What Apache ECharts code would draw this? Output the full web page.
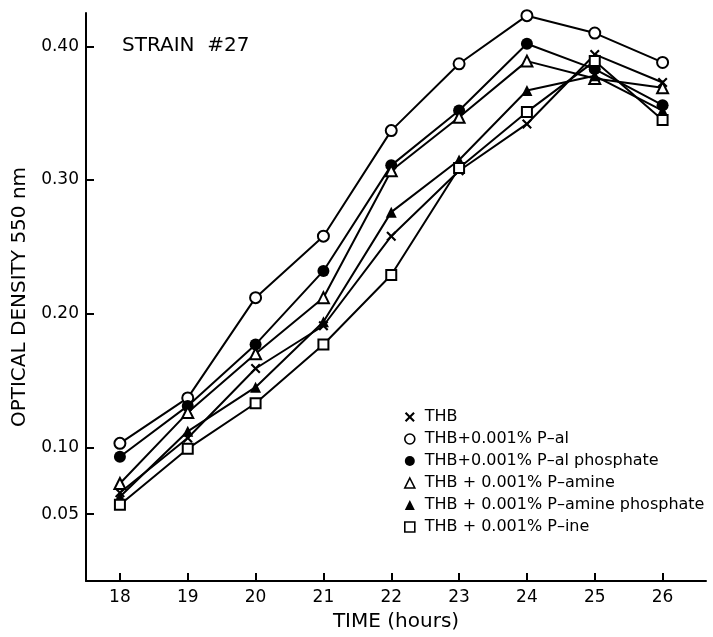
<!DOCTYPE html>
<html>
<head>
<meta charset="utf-8">
<script src="https://cdn.jsdelivr.net/npm/echarts@6/dist/echarts.min.js"></script>
<style>
html,body{margin:0;padding:0;background:#fff;}
#chart{width:713px;height:637px;}
</style>
</head>
<body>
<div id="chart"></div>
<script>
const hours = [18, 19, 20, 21, 22, 23, 24, 25, 26];
const thb      = [0.066, 0.107, 0.159, 0.191, 0.258, 0.307, 0.342, 0.394, 0.373];
const pAl      = [0.103, 0.137, 0.212, 0.258, 0.337, 0.387, 0.423, 0.410, 0.388];
const pAlPhos  = [0.093, 0.131, 0.177, 0.232, 0.311, 0.352, 0.402, 0.383, 0.356];
const pAmine   = [0.073, 0.126, 0.170, 0.212, 0.307, 0.347, 0.389, 0.376, 0.369];
const pAmPhos  = [0.063, 0.112, 0.145, 0.194, 0.276, 0.315, 0.367, 0.378, 0.352];
const pIne     = [0.057, 0.099, 0.133, 0.177, 0.229, 0.309, 0.351, 0.389, 0.345];
const seriesNames = ['THB', 'THB+0.001% P\u2013al', 'THB+0.001% P\u2013al phosphate', 'THB + 0.001% P\u2013amine', 'THB + 0.001% P\u2013amine phosphate', 'THB + 0.001% P\u2013ine'];
const yTicks = [0.05, 0.10, 0.20, 0.30, 0.40];
const xTicks = [18, 19, 20, 21, 22, 23, 24, 25, 26];

const FONT = 'DejaVu Sans';
const crossPath = 'path://M0,1.5L1.5,0L5,3.5L8.5,0L10,1.5L6.5,5L10,8.5L8.5,10L5,6.5L1.5,10L0,8.5L3.5,5Z';
const styles = [
  {symbol: crossPath, size: 10, fill: '#000', bw: 0, lsize: 8},
  {symbol: 'circle', size: 11, fill: '#fff', bw: 2, lsize: 10},
  {symbol: 'circle', size: 12, fill: '#000', bw: 0, lsize: 11},
  {symbol: 'triangle', size: 11, fill: '#fff', bw: 2, lsize: 10},
  {symbol: 'triangle', size: 11, fill: '#000', bw: 0, lsize: 11},
  {symbol: 'rect', size: 10, fill: '#fff', bw: 2, lsize: 9}
];
const values = [thb, pAl, pAlPhos, pAmine, pAmPhos, pIne];

const series = values.map((v, i) => ({
  name: seriesNames[i],
  type: 'line',
  data: hours.map((h, j) => [h, v[j]]),
  symbol: styles[i].symbol,
  symbolSize: styles[i].size,
  showSymbol: true,
  lineStyle: {color: '#000', width: 2},
  itemStyle: {color: styles[i].fill, borderColor: '#000', borderWidth: styles[i].bw},
  emphasis: {disabled: true},
  animation: false,
  z: 2 + i
}));

const legendData = seriesNames.map((n, i) => ({
  name: n,
  icon: styles[i].symbol,
  itemStyle: {color: styles[i].fill, borderColor: '#000', borderWidth: styles[i].bw ? 1.6 : 0}
}));

const chart = echarts.init(document.getElementById('chart'), null, {renderer: 'canvas'});
chart.setOption({
  backgroundColor: '#fff',
  animation: false,
  title: {
    text: 'STRAIN  #27',
    left: 117, top: 31,
    textStyle: {fontFamily: FONT, fontSize: 20, fontWeight: 'normal', color: '#000'}
  },
  legend: {
    orient: 'vertical',
    left: 399, top: 404,
    itemWidth: 10, itemHeight: 10,
    itemGap: 6,
    symbolKeepAspect: true,
    data: legendData,
    selectedMode: false,
    textStyle: {fontFamily: FONT, fontSize: 16, color: '#000', padding: [0, 0, 0, 5]}
  },
  grid: {left: 86, right: 7, top: 13, bottom: 51, containLabel: false},
  xAxis: {
    type: 'value', min: 17.5, max: 26.64,
    name: 'TIME (hours)', nameLocation: 'middle', nameGap: 31,
    nameTextStyle: {fontFamily: FONT, fontSize: 20, color: '#000'},
    axisLine: {show: true, onZero: false, lineStyle: {color: '#000', width: 2}},
    axisTick: {show: true, inside: true, length: 8, customValues: xTicks, lineStyle: {color: '#000', width: 2}},
    axisLabel: {customValues: xTicks, margin: 8, fontFamily: FONT, fontSize: 17, color: '#000'},
    splitLine: {show: false}
  },
  yAxis: {
    type: 'value', min: 0, max: 0.425,
    name: 'OPTICAL DENSITY 550 nm', nameLocation: 'middle', nameGap: 56, nameRotate: 90,
    nameTextStyle: {fontFamily: FONT, fontSize: 20, color: '#000'},
    axisLine: {show: true, onZero: false, lineStyle: {color: '#000', width: 2}},
    axisTick: {show: true, inside: true, length: 8, customValues: yTicks, lineStyle: {color: '#000', width: 2}},
    axisLabel: {customValues: yTicks, margin: 7, fontFamily: FONT, fontSize: 17, color: '#000',
      formatter: v => v.toFixed(2)},
    splitLine: {show: false}
  },
  series: series
});
</script>
</body>
</html>
